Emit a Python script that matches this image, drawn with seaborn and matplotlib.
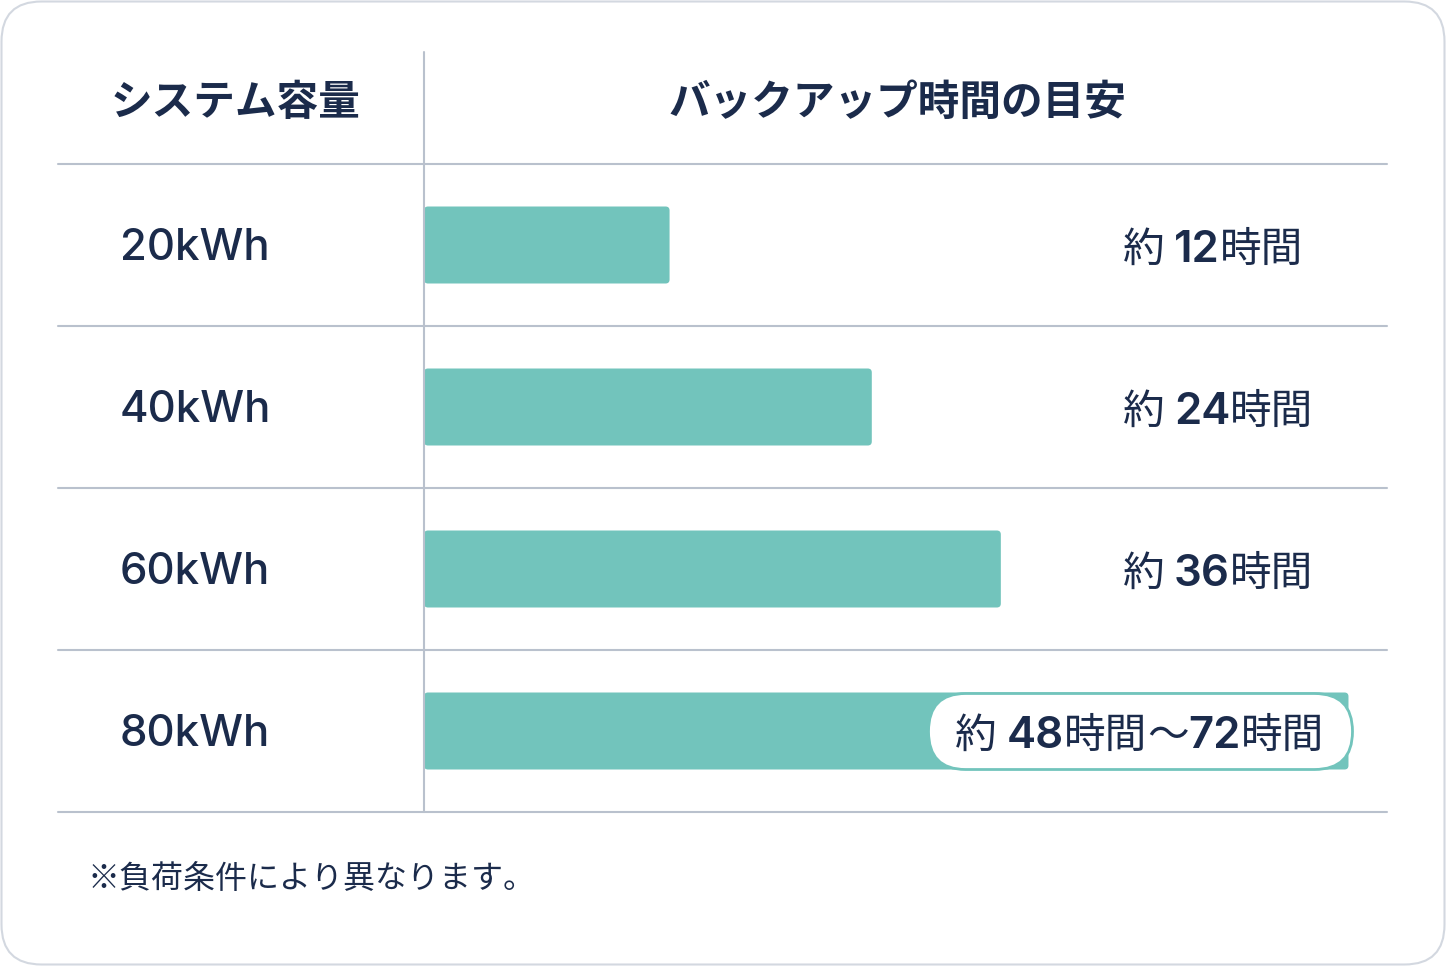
import matplotlib
matplotlib.use('Agg')
import matplotlib.pyplot as plt
from matplotlib.patches import FancyBboxPatch
from matplotlib.offsetbox import TextArea, HPacker, DrawingArea, AnnotationBbox
import pandas as pd
import seaborn as sns

# chart data
capacity = ['20kWh', '40kWh', '60kWh', '80kWh']
bar_length = [25.5, 46.5, 59.9, 96.0]      # bar length, % of the bar track
hours_min = [12, 24, 36, 48]
hours_max = [None, None, None, 72]
header_left = 'システム容量'
header_right = 'バックアップ時間の目安'
footnote = '※負荷条件により異なります。'

TEAL = '#72C4BC'
NAVY = '#1B2B4B'
RULE = '#B9C1CD'
CARD = '#D3D8E0'

W, H, DPI = 1446, 966, 100

sns.set_theme(style='white')
plt.rcParams['font.family'] = ['Inter', 'Noto Sans CJK JP', 'DejaVu Sans']
CJK = ['Noto Sans CJK JP', 'DejaVu Sans']

df = pd.DataFrame({'capacity': capacity, 'length': bar_length})

fig = plt.figure(figsize=(W / DPI, H / DPI), dpi=DPI)
fig.patch.set_facecolor('white')

# rounded card outline (pixel coords)
card = FancyBboxPatch((1.5, 1.5), W - 3, H - 3, boxstyle='round,pad=0,rounding_size=40',
                      transform=None, fc='white', ec=CARD, lw=1.5, zorder=0)
fig.add_artist(card)

# table area: x from label column to right edge, y from header top to last rule
ax = fig.add_axes([58 / W, 1 - 812 / H, (1387 - 58) / W, (812 - 52) / H])
ax.set_facecolor('none')
track = (1387 - 424) / 100          # px per bar unit
row_px = 162
header_h = (164 - 52) / row_px

sns.barplot(data=df, x='length', y='capacity', orient='h', color=TEAL, saturation=1,
            width=77 / row_px, errorbar=None, ax=ax, zorder=2)

# swap plain bars for slightly rounded ones
for p in list(ax.patches):
    x, y, w, h = p.get_x(), p.get_y(), p.get_width(), p.get_height()
    p.remove()
    ax.add_patch(FancyBboxPatch((x, y), w, h,
                                boxstyle=f'round,pad=0,rounding_size={4 / track}',
                                mutation_aspect=track / row_px,
                                fc=TEAL, ec='none', zorder=2))

ax.set_xlim(-(424 - 58) / track, 100)
ax.set_ylim(3.5, -0.5 - header_h)
ax.axis('off')

# table rules
for b in [-0.5, 0.5, 1.5, 2.5, 3.5]:
    ax.axhline(b, color=RULE, lw=1.5, zorder=1, clip_on=False)
ax.axvline(0, color=RULE, lw=1.5, zorder=3, clip_on=False)

# headers
y_head = -0.5 - (164 - 103) / row_px
ax.text(-(424 - 235) / track, y_head, header_left, ha='center', va='center',
        fontsize=30, fontweight='bold', color=NAVY, family=CJK)
ax.text((897 - 424) / track, y_head, header_right, ha='center', va='center',
        fontsize=30, fontweight='bold', color=NAVY, family=CJK)

# row labels
for i, cap in enumerate(capacity):
    ax.text(-(424 - 120) / track, i + 15 / row_px, cap, ha='left', va='baseline',
            fontsize=31.5, fontweight=500, color=NAVY)


def hour_label(lo, hi, side):
    parts = [('約 ', 'normal', 30), (str(lo), 600, 31.5), ('時間', 'normal', 30)]
    if hi is not None:
        parts += [('～', 'normal', 30), (str(hi), 600, 31.5), ('時間', 'normal', 30)]
    kids = []
    for t, wt, sz in parts:
        fam = plt.rcParams['font.family'] if t[0].isdigit() else CJK
        kids.append(TextArea(t, textprops=dict(fontsize=sz, fontweight=wt,
                                               color=NAVY, family=fam)))
    left = DrawingArea(side, 54.5, 0, 15)
    right = DrawingArea(side, 54.5, 0, 15)
    return HPacker(children=[left] + kids + [right], align='baseline', pad=0, sep=0)


for i, (lo, hi) in enumerate(zip(hours_min, hours_max)):
    if hi is None:
        box = hour_label(lo, hi, 0)
        ab = AnnotationBbox(box, ((1123 - 424) / track, i), box_alignment=(0, 0.5),
                            frameon=False, pad=0, zorder=5)
    else:
        box = hour_label(lo, hi, 20)
        ab = AnnotationBbox(box, (bar_length[i] + 0.35, i), box_alignment=(1, 0.5),
                            frameon=True, pad=0, fontsize=10, zorder=5,
                            bboxprops=dict(boxstyle='round,pad=0,rounding_size=2.72',
                                           fc='white', ec=TEAL, lw=2))
    ax.add_artist(ab)

fig.text(88 / W, 1 - 879 / H, footnote, ha='left', va='center',
         fontsize=23, color=NAVY, family=CJK)

fig.savefig('out.png', dpi=DPI, facecolor='white')
